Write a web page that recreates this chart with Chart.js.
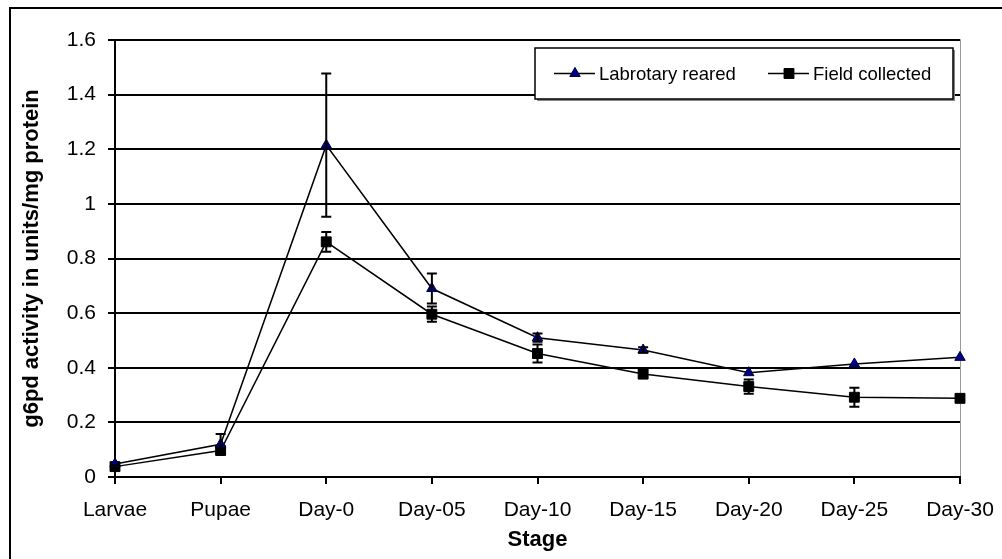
<!DOCTYPE html>
<html lang="en">
<head>
    <meta charset="UTF-8">
    <title>g6pd activity by stage</title>
    <script src="https://cdn.jsdelivr.net/npm/chart.js"></script>
    <style>
        html, body { margin: 0; padding: 0; background: #fff; }
        #wrap { width: 1002px; height: 559px; }
    </style>
</head>
<body>
    <div id="wrap"><canvas id="chart" width="1002" height="559"></canvas></div>

    <script>
        // Data
        const stages = ['Larvae', 'Pupae', 'Day-0', 'Day-05', 'Day-10', 'Day-15', 'Day-20', 'Day-25', 'Day-30'];
        const labReared = [0.048, 0.12, 1.215, 0.69, 0.51, 0.465, 0.382, 0.414, 0.438];
        const labErr = [0, 0.037, 0.262, 0.055, 0.015, 0.01, 0, 0, 0];
        const fieldCollected = [0.038, 0.097, 0.861, 0.596, 0.452, 0.377, 0.331, 0.292, 0.288];
        const fieldErr = [0.005, 0.01, 0.036, 0.028, 0.033, 0.015, 0.026, 0.035, 0.012];
        const yTicks = [0, 0.2, 0.4, 0.6, 0.8, 1, 1.2, 1.4, 1.6];

        const FONT = "'Liberation Sans', Arial, sans-serif";

        // Frame around the whole chart + grey plot border
        const framePlugin = {
            id: 'frame',
            beforeDraw(chart) {
                const ctx = chart.ctx;
                const a = chart.chartArea;
                ctx.save();
                ctx.fillStyle = '#fff';
                ctx.fillRect(0, 0, chart.width, chart.height);
                ctx.strokeStyle = '#000';
                ctx.lineWidth = 2;
                ctx.beginPath();
                ctx.moveTo(10, chart.height + 2);
                ctx.lineTo(10, 8);
                ctx.lineTo(chart.width + 2, 8);
                ctx.stroke();
                ctx.strokeStyle = '#999';
                ctx.lineWidth = 1;
                ctx.beginPath();
                ctx.moveTo(a.left, a.top - 0.5);
                ctx.lineTo(a.right + 0.5, a.top - 0.5);
                ctx.lineTo(a.right + 0.5, a.bottom);
                ctx.stroke();
                ctx.restore();
            }
        };

        // Error bars drawn from the scales
        const errorBarPlugin = {
            id: 'errorBars',
            afterDatasetsDraw(chart) {
                const ctx = chart.ctx;
                const x = chart.scales.x;
                const y = chart.scales.y;
                const sets = [[labReared, labErr], [fieldCollected, fieldErr]];
                ctx.save();
                ctx.strokeStyle = '#000';
                ctx.lineWidth = 2;
                sets.forEach(([vals, errs]) => {
                    vals.forEach((v, i) => {
                        if (!errs[i]) return;
                        const px = x.getPixelForValue(i);
                        const top = y.getPixelForValue(v + errs[i]);
                        const bot = y.getPixelForValue(v - errs[i]);
                        ctx.beginPath();
                        ctx.moveTo(px, top);
                        ctx.lineTo(px, bot);
                        ctx.moveTo(px - 5, top);
                        ctx.lineTo(px + 5, top);
                        ctx.moveTo(px - 5, bot);
                        ctx.lineTo(px + 5, bot);
                        ctx.stroke();
                    });
                });
                ctx.restore();
            }
        };

        // Excel-style legend box
        const legendPlugin = {
            id: 'boxLegend',
            afterDraw(chart) {
                const ctx = chart.ctx;
                const bx = 535, by = 48, bw = 418, bh = 51;
                ctx.save();
                ctx.fillStyle = '#888';
                ctx.fillRect(bx + 2, by + 2, bw, bh);
                ctx.fillStyle = '#fff';
                ctx.fillRect(bx, by, bw, bh);
                ctx.strokeStyle = '#000';
                ctx.lineWidth = 1.5;
                ctx.strokeRect(bx, by, bw, bh);

                const cy = by + bh / 2;
                const items = [
                    { x: 554, text: 'Labrotary reared', style: 'triangle', fill: '#000080', r: 6 },
                    { x: 768, text: 'Field collected', style: 'rect', fill: '#000', r: 7 }
                ];
                ctx.font = '18.5px ' + FONT;
                ctx.textBaseline = 'middle';
                items.forEach(it => {
                    ctx.strokeStyle = '#000';
                    ctx.lineWidth = 1.5;
                    ctx.beginPath();
                    ctx.moveTo(it.x, cy);
                    ctx.lineTo(it.x + 41, cy);
                    ctx.stroke();
                    ctx.fillStyle = it.fill;
                    ctx.lineWidth = 1;
                    Chart.helpers.drawPoint(ctx, { pointStyle: it.style, radius: it.r, borderWidth: 1 }, it.x + 21, cy);
                    ctx.fill();
                    ctx.fillStyle = '#000';
                    ctx.fillText(it.text, it.x + 45, cy + 1);
                });
                ctx.restore();
            }
        };

        new Chart(document.getElementById('chart'), {
            type: 'line',
            data: {
                labels: stages,
                datasets: [
                    {
                        label: 'Labrotary reared',
                        data: labReared,
                        borderColor: '#000',
                        borderWidth: 1.5,
                        pointStyle: 'triangle',
                        pointRadius: 6,
                        pointBackgroundColor: '#000080',
                        pointBorderColor: '#000040',
                        pointBorderWidth: 1,
                        tension: 0,
                        clip: false
                    },
                    {
                        label: 'Field collected',
                        data: fieldCollected,
                        borderColor: '#000',
                        borderWidth: 1.5,
                        pointStyle: 'rect',
                        pointRadius: 7,
                        pointBackgroundColor: '#000',
                        pointBorderColor: '#000',
                        pointBorderWidth: 1,
                        tension: 0,
                        clip: false
                    }
                ]
            },
            options: {
                responsive: false,
                animation: false,
                events: [],
                layout: { padding: { left: 10, top: 40, right: 42, bottom: 0 } },
                plugins: {
                    legend: { display: false },
                    tooltip: { enabled: false }
                },
                scales: {
                    x: {
                        type: 'category',
                        offset: false,
                        afterFit: s => { s.height = 82; s.paddingLeft = 0; s.paddingRight = 0; },
                        grid: {
                            drawOnChartArea: false,
                            drawTicks: true,
                            tickLength: 7,
                            color: '#000',
                            lineWidth: 2
                        },
                        border: { color: '#000', width: 2 },
                        ticks: {
                            color: '#000',
                            font: { family: FONT, size: 21 },
                            padding: 14,
                            maxRotation: 0,
                            autoSkip: false
                        },
                        title: {
                            display: true,
                            text: 'Stage',
                            color: '#000',
                            font: { family: FONT, size: 22, weight: 'bold' },
                            padding: { top: 0, bottom: 6 }
                        }
                    },
                    y: {
                        min: 0,
                        max: 1.6,
                        afterFit: s => { s.width = 105; s.paddingTop = 0; s.paddingBottom = 0; },
                        afterBuildTicks: s => { s.ticks = yTicks.map(v => ({ value: v })); },
                        grid: {
                            color: '#000',
                            lineWidth: 2,
                            drawTicks: true,
                            tickLength: 7
                        },
                        border: { color: '#000', width: 2 },
                        ticks: {
                            color: '#000',
                            font: { family: FONT, size: 21 },
                            padding: 12,
                            callback: v => String(v)
                        },
                        title: {
                            display: true,
                            text: 'g6pd activity in units/mg protein',
                            color: '#000',
                            font: { family: FONT, size: 22, weight: 'bold' },
                            padding: { top: 9, bottom: 0 }
                        }
                    }
                }
            },
            plugins: [framePlugin, errorBarPlugin, legendPlugin]
        });
    </script>
</body>
</html>
